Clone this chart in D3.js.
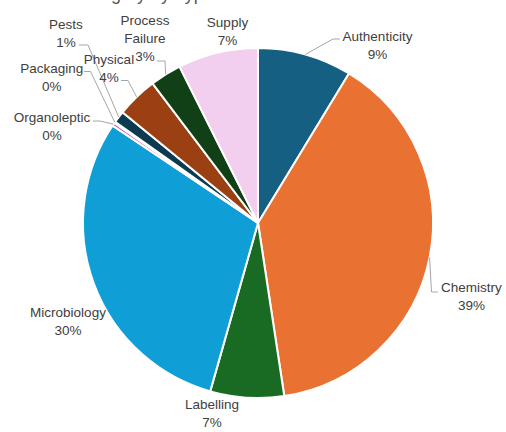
<!DOCTYPE html>
<html>
<head>
<meta charset="utf-8">
<script src="https://cdn.jsdelivr.net/npm/d3@7"></script>
<style>
  html, body { margin: 0; padding: 0; background: #fff; }
  svg { display: block; }
  text { font-family: "Liberation Sans", Arial, sans-serif; }
</style>
</head>
<body>
<svg id="chart" width="506" height="432"></svg>
<script>
// Incident counts by hazard category (clockwise from 12 o'clock)
const categories = ["Authenticity", "Chemistry", "Labelling", "Microbiology", "Organoleptic",
                    "Packaging", "Pests", "Physical", "Process Failure", "Supply"];
const counts = [87, 389, 68, 300, 3, 1, 11, 38, 29, 74];
const colors = ["#156082", "#E97132", "#196B24", "#0F9ED5", "#C85FBC",
                "#4EA72E", "#0C3A50", "#9A4012", "#114017", "#F2CEEF"];
const titleText = "Hazard Category by Type";

// Label placement: text anchor (centre x, first baseline y) and leader elbow points
const labelLayout = {
  "Authenticity":    { x: 377.5, y: 40.5, leader: [[340, 39], [333, 39]] },
  "Chemistry":       { x: 471.5, y: 292,  leader: [[438, 292], [431.5, 292]] },
  "Labelling":       { x: 212,   y: 409 },
  "Microbiology":    { x: 68,    y: 317 },
  "Organoleptic":    { x: 52,    y: 121.5, leader: [[93, 121], [100, 121]] },
  "Packaging":       { x: 51.7,  y: 73,   leader: [[84, 71.5], [90.5, 71.5]] },
  "Pests":           { x: 66,    y: 28.5, leader: [[79, 45], [88, 45]] },
  "Physical":        { x: 109,   y: 63.5, leader: [[121, 80.5], [128, 80.5]] },
  "Process Failure": { x: 145,   y: 25,   leader: [[157, 61], [165, 61]] },
  "Supply":          { x: 227.5, y: 26.5 }
};

const cx = 258, cy = 223, radius = 175, lineGap = 18;
const svg = d3.select("#chart");

// Title sits mostly above the visible area
svg.append("text")
  .attr("x", 10).attr("y", -0.5)
  .attr("font-size", 18)
  .attr("fill", "#595959")
  .text(titleText);

const data = categories.map((c, i) => ({ name: c, value: counts[i], color: colors[i] }));
const total = d3.sum(counts);

const pie = d3.pie().sort(null).value(d => d.value).startAngle(0).endAngle(2 * Math.PI);
const arcs = pie(data);
const arc = d3.arc().innerRadius(0).outerRadius(radius);
const rim = d3.arc().innerRadius(radius).outerRadius(radius);

const g = svg.append("g").attr("transform", `translate(${cx},${cy})`);

g.selectAll("path.slice")
  .data(arcs)
  .join("path")
  .attr("class", "slice")
  .attr("d", arc)
  .attr("fill", d => d.data.color)
  .attr("stroke", "#ffffff")
  .attr("stroke-width", 2)
  .attr("stroke-linejoin", "round");

// Leader lines from label elbow to the slice's outer edge
const line = d3.line();
arcs.forEach(a => {
  const lay = labelLayout[a.data.name];
  if (!lay.leader) return;
  const [px, py] = rim.centroid(a);
  const pts = lay.leader.concat([[px + cx, py + cy]]);
  svg.append("path")
    .attr("d", line(pts))
    .attr("fill", "none")
    .attr("stroke", "#a6a6a6")
    .attr("stroke-width", 1);
});

// Data labels: category name and rounded share
const fmt = v => Math.round(v / total * 100) + "%";
arcs.forEach(a => {
  const lay = labelLayout[a.data.name];
  const lines = a.data.name === "Process Failure"
    ? ["Process", "Failure", fmt(a.data.value)]
    : [a.data.name, fmt(a.data.value)];
  const t = svg.append("text")
    .attr("text-anchor", "middle")
    .attr("font-size", 13.5)
    .attr("fill", "#404040");
  lines.forEach((s, i) => {
    t.append("tspan").attr("x", lay.x).attr("y", lay.y + i * lineGap).text(s);
  });
});
</script>
</body>
</html>
